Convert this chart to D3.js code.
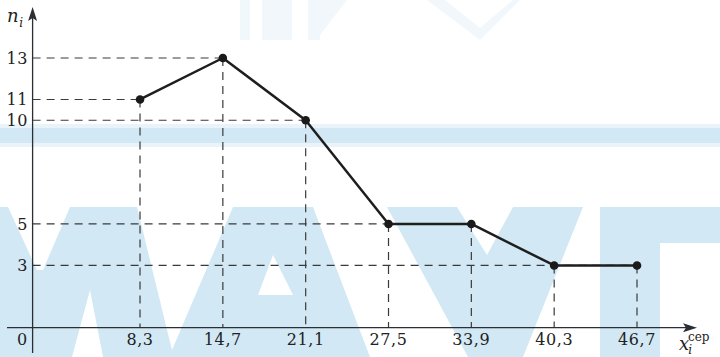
<!DOCTYPE html>
<html>
<head>
<meta charset="utf-8">
<script src="https://cdn.jsdelivr.net/npm/d3@7"></script>
<style>
    body { margin: 0; background: #fff; }
    svg { display: block; }
    .lbl { font-family: "DejaVu Serif", serif; font-size: 16px; fill: #222; letter-spacing: 0.6px; }
    .it { font-style: italic; }
</style>
</head>
<body>
<svg id="chart" width="720" height="357"></svg>
<script>
// interval midpoints x_i^сер and frequencies n_i
const xMid = [8.3, 14.7, 21.1, 27.5, 33.9, 40.3, 46.7];
const counts = [11, 13, 10, 5, 5, 3, 3];
const xTickLabels = ["8,3", "14,7", "21,1", "27,5", "33,9", "40,3", "46,7"];
const yTicks = [3, 5, 10, 11, 13];

const width = 720, height = 357;
const svg = d3.select("#chart");

const scaleX = d3.scaleLinear().domain([0, 46.7]).range([32.6, 637]);
const scaleY = d3.scaleLinear().domain([0, 13]).range([327.7, 58]);

const x0 = scaleX(0), y0 = scaleY(0);

// background watermark (light blue letters)
const wm = svg.append("g").attr("fill", "#d2e8f5");
const wmShapes = [
    [[0,207],[8,207],[37,270],[43,270],[70,207],[137,207],[172,350],[233,207],[313,207],[370,357],[103,357],[90,290],[72,357],[0,357]],
    [[387,207],[457,207],[487,255],[513,207],[583,207],[523,357],[468,357]],
    [[600,207],[720,207],[720,243],[660,243],[660,357],[600,357]]
];
wm.selectAll("polygon.letter")
    .data(wmShapes)
    .join("polygon")
    .attr("class", "letter")
    .attr("points", d => d.map(p => p.join(",")).join(" "));
// hole of the "A"
wm.append("polygon")
    .attr("fill", "#fff")
    .attr("points", "273,255 258,295 293,295");
wm.append("rect").attr("x", 0).attr("y", 124).attr("width", width).attr("height", 23).attr("fill", "#e8f3fa");
wm.append("rect").attr("x", 0).attr("y", 128).attr("width", width).attr("height", 15);
const wmTop = wm.append("g").attr("opacity", 0.3);
wmTop.append("rect").attr("x", 240).attr("y", 0).attr("width", 10).attr("height", 40);
wmTop.append("rect").attr("x", 262).attr("y", 0).attr("width", 30).attr("height", 40);
wmTop.append("rect").attr("x", 308).attr("y", 0).attr("width", 12).attr("height", 40);
wmTop.append("polygon").attr("points", "320,0 347,0 320,35");
wmTop.append("polygon").attr("points", "427,0 445,0 480,28 513,0 520,0 480,40");

// dashed guide lines
const guides = svg.append("g")
    .attr("stroke", "#3a3a3a")
    .attr("stroke-width", 1.2)
    .attr("stroke-dasharray", "8,6")
    .attr("fill", "none");

guides.selectAll("line.h")
    .data(yTicks)
    .join("line")
    .attr("class", "h")
    .attr("x1", x0)
    .attr("x2", d => {
        // horizontal dash runs to the furthest point with that height
        let xs = xMid.filter((v, i) => counts[i] === d);
        return scaleX(d3.max(xs));
    })
    .attr("y1", d => scaleY(d))
    .attr("y2", d => scaleY(d));

guides.selectAll("line.v")
    .data(xMid)
    .join("line")
    .attr("class", "v")
    .attr("x1", d => scaleX(d))
    .attr("x2", d => scaleX(d))
    .attr("y1", (d, i) => scaleY(counts[i]))
    .attr("y2", y0);

// axes
const axes = svg.append("g").attr("stroke", "#2b2f33").attr("stroke-width", 1.3);
axes.append("line").attr("x1", 7).attr("x2", 686).attr("y1", y0).attr("y2", y0);
axes.append("line").attr("x1", x0).attr("x2", x0).attr("y1", 353).attr("y2", 18);
svg.append("path")
    .attr("d", `M697,${y0} L683,${y0 - 4.5} L686,${y0} L683,${y0 + 4.5} Z`)
    .attr("fill", "#2b2f33");
svg.append("path")
    .attr("d", `M${x0},7 L${x0 - 4.5},21 L${x0},18 L${x0 + 4.5},21 Z`)
    .attr("fill", "#2b2f33");

// tick labels
svg.selectAll("text.xt")
    .data(xMid)
    .join("text")
    .attr("class", "lbl xt")
    .attr("x", d => scaleX(d))
    .attr("y", 345)
    .attr("text-anchor", "middle")
    .text((d, i) => xTickLabels[i]);

svg.selectAll("text.yt")
    .data(yTicks)
    .join("text")
    .attr("class", "lbl yt")
    .attr("x", 28)
    .attr("y", d => scaleY(d) + 6)
    .attr("text-anchor", "end")
    .text(d => d);

svg.append("text").attr("class", "lbl").attr("x", 22.5).attr("y", 345).attr("text-anchor", "middle").text("0");

// axis names
const yName = svg.append("text").attr("class", "lbl it").attr("x", 7).attr("y", 22);
yName.append("tspan").attr("font-size", 18).text("n");
yName.append("tspan").attr("font-size", 12).attr("dy", 5).text("i");

// x_i with superscript "сер" in one text element
const xName = svg.append("text").attr("class", "lbl it").attr("x", 679).attr("y", 350).style("letter-spacing", "0px");
xName.append("tspan").attr("font-size", 18).text("x");
xName.append("tspan").attr("font-size", 12).attr("dx", -1).attr("dy", 4).text("i");
xName.append("tspan")
    .attr("font-size", 12)
    .attr("font-style", "normal")
    .attr("dx", -4)
    .attr("dy", -13)
    .text("сер");

// polygon line and points
const pts = xMid.map((v, i) => [v, counts[i]]);
svg.append("path")
    .datum(pts)
    .attr("fill", "none")
    .attr("stroke", "#1e1e1e")
    .attr("stroke-width", 2.5)
    .attr("stroke-linejoin", "round")
    .attr("d", d3.line().x(d => scaleX(d[0])).y(d => scaleY(d[1])));

svg.selectAll("circle.pt")
    .data(pts)
    .join("circle")
    .attr("class", "pt")
    .attr("cx", d => scaleX(d[0]))
    .attr("cy", d => scaleY(d[1]))
    .attr("r", 4.3)
    .attr("fill", "#1a1a1a");
</script>
</body>
</html>
